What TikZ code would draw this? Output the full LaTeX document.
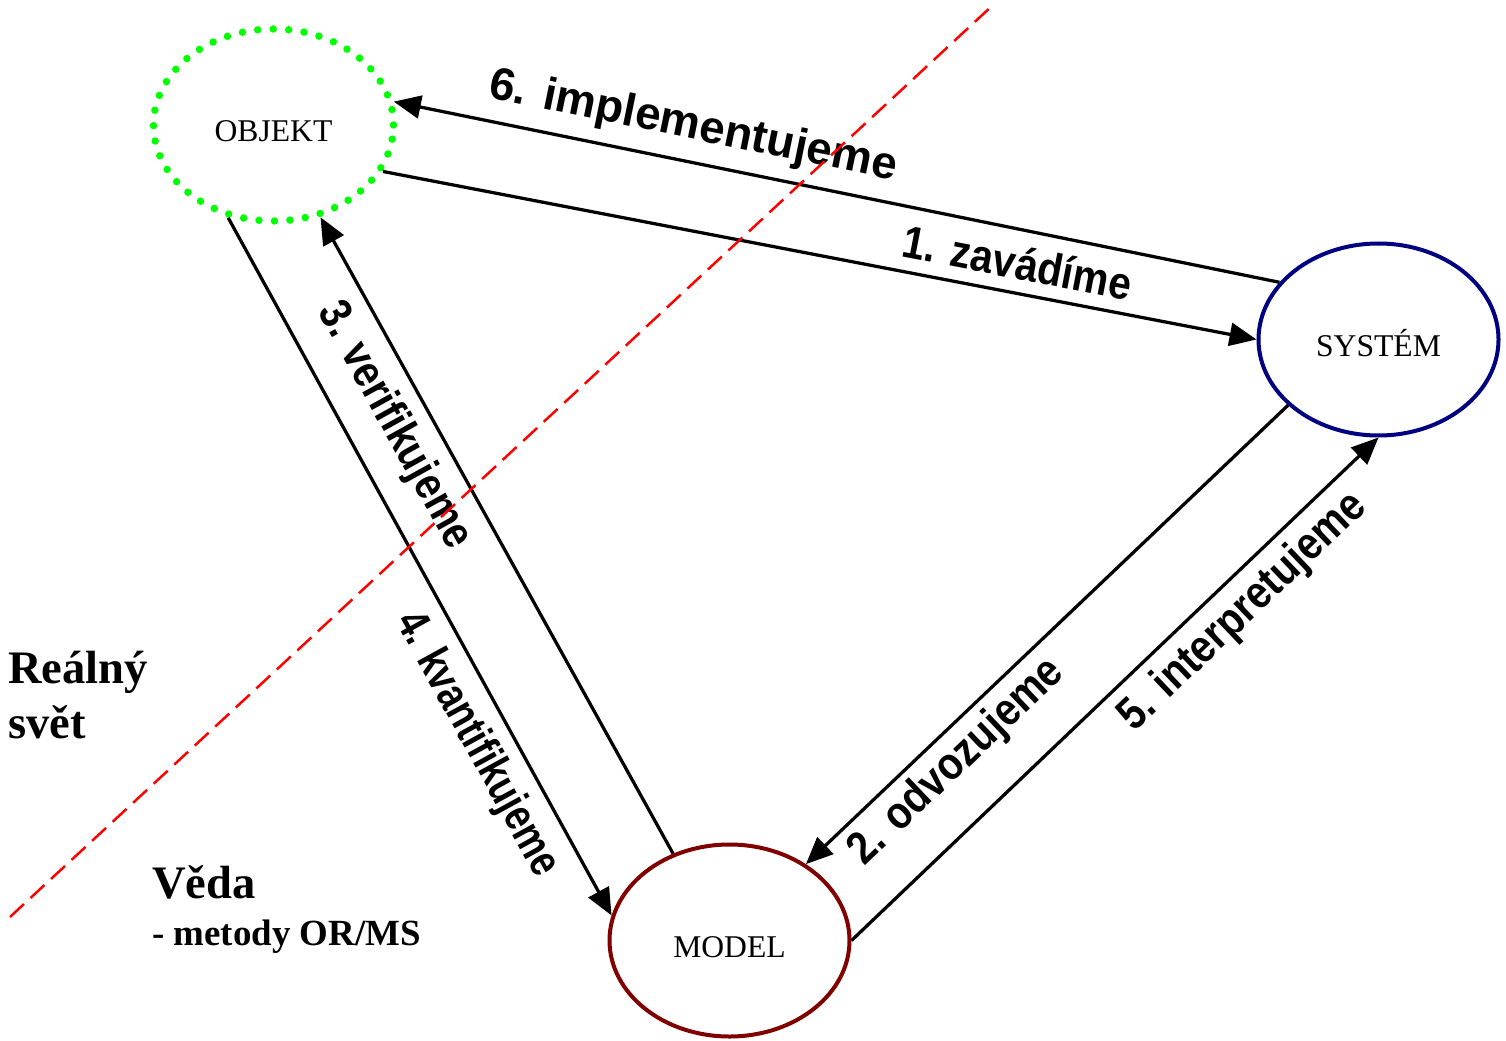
\documentclass[tikz,border=0pt]{standalone}
\usepackage{graphicx}
\usepackage{fontspec}
\setmainfont{Liberation Serif}
\newfontfamily\popisfont{Liberation Sans}
\usetikzlibrary{arrows.meta, shapes.geometric}

\definecolor{tmavomodra}{RGB}{0,0,128}
\definecolor{tmavocervena}{RGB}{128,0,0}
\definecolor{zelena}{RGB}{0,255,0}

\newcommand{\stlac}[2]{\scalebox{#1}[1]{#2}}

\tikzset{
  stav/.style={ellipse, draw, line width=0.08cm, minimum width=4.8cm,
    minimum height=3.84cm, inner sep=0pt, text height=0.66cm,
    text depth=0pt, font=\fontsize{18}{20}\selectfont},
  sipka/.style={line width=0.065cm, -{Triangle[length=0.54cm,width=0.46cm]}},
  popis/.style={sloped, inner sep=0pt,
    font=\popisfont\bfseries\fontsize{26}{30}\selectfont},
  nadpis/.style={anchor=base west, inner sep=0pt,
    font=\bfseries\fontsize{26.5}{30}\selectfont},
}

\begin{document}
\begin{tikzpicture}
\useasboundingbox (0,0) rectangle (30.12,20.8);

\node[stav, draw=zelena, line width=0.15cm, line cap=round,
  dash pattern=on 0pt off 0.31cm] (obj) at (5.47,18.3) {OBJEKT};
\node[stav, draw=tmavomodra] (sys) at (27.57,14.01) {SYST\'EM};
\node[stav, draw=tmavocervena] (model) at (14.59,1.99) {MODEL};

\node[nadpis] (real1) at (0.16,7.14) {Reálný};
\node[nadpis] (real2) at (0.16,6.04) {svět};
\node[nadpis] (veda) at (3.04,2.84) {Věda};
\node[nadpis, font=\bfseries\fontsize{21}{24}\selectfont] (metody)
  at (3.04,1.9) {- metody OR/MS};

\draw
    (obj.-23) edge[sipka] node[popis, pos=0.72, above=0.24cm]
      {\stlac{0.89}{1. zavádíme}} (sys.180)
    (sys.216) edge[sipka] node[popis, pos=0.73, below=0.15cm]
      {\stlac{0.87}{2. odvozujeme}} (model.45)
    (model.123.5) edge[sipka] node[popis, pos=0.70, below=0.27cm]
      {\stlac{0.85}{3. verifikujeme}} (obj.-63)
    (obj.-116) edge[sipka] node[popis, pos=0.73, below=0.26cm]
      {\stlac{0.79}{4. kvantifikujeme}} (model.168)
    (model.0) edge[sipka] node[popis, pos=0.70, below=0.2cm]
      {\stlac{0.87}{5. interpretujeme}} (sys.270)
    (sys.150) edge[sipka] node[popis, pos=0.67, above=0.24cm]
      {\stlac{1}{6. implementujeme}} (obj.11)
    ;

% hranice mezi realnym svetem a vedou
\coordinate (h1) at (0.2,2.46);
\coordinate (h2) at (19.86,20.7);
\draw[red, line width=0.05cm, dash pattern=on 0.38cm off 0.18cm] (h1) -- (h2);
\end{tikzpicture}
\end{document}
